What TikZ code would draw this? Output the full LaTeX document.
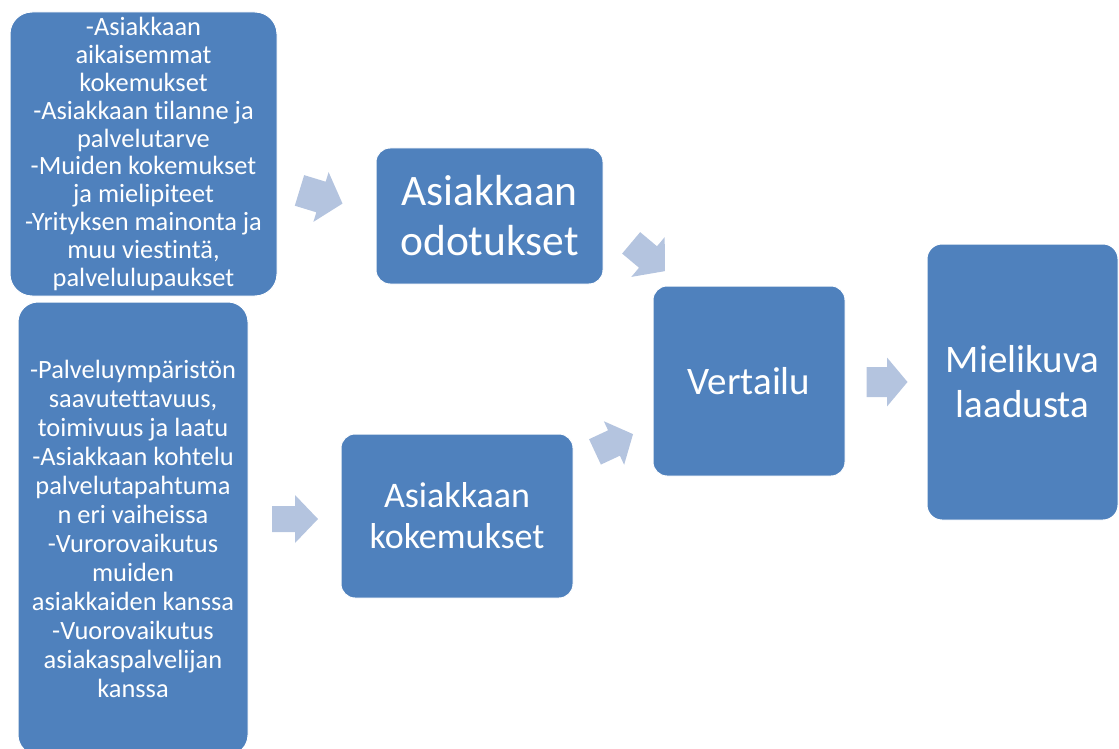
\documentclass[tikz,border=0pt]{standalone}
\usepackage{fontspec}
\setmainfont{Carlito}[Ligatures=NoCommon]
\definecolor{boxblue}{RGB}{79,129,189}
\definecolor{arrowblue}{RGB}{180,196,223}
\newcommand\blockarrow[7]{% name, x, y, rotation, length, head half-width, shaft half-width
  \coordinate (#1) at (#2,#3);
  \fill[arrowshape, shift={(#1)}, rotate=#4]
    (-#5/2,-#7) -- (0,-#7) -- (0,-#6) -- (#5/2,0) -- (0,#6) -- (0,#7) -- (-#5/2,#7) -- cycle;}
\begin{document}
\begin{tikzpicture}[x=1pt,y=-1pt,
  box/.style={rectangle, rounded corners=14pt, fill=boxblue, draw=white, line width=1pt,
              text=white, align=center, inner sep=0pt},
  arrowshape/.style={fill=arrowblue}]
\useasboundingbox (0,0) rectangle (1119,749);
\clip (0,0) rectangle (1119,749);

\node[box, font=\fontsize{26.4}{27.8}\selectfont, rounded corners=22pt, minimum width=267pt, minimum height=284pt] (prior) at (143.5,154)
  {-Asiakkaan\\aikaisemmat\\kokemukset\\-Asiakkaan tilanne ja\\palvelutarve\\-Muiden kokemukset\\ja mielipiteet\\-Yrityksen mainonta ja\\muu viestintä,\\palvelulupaukset};

\node[box, font=\fontsize{26.4}{29}\selectfont, rounded corners=20pt, minimum width=230pt, minimum height=453pt] (during) at (133,528.5)
  {-Palveluympäristön\\saavutettavuus,\\toimivuus ja laatu\\-Asiakkaan kohtelu\\palvelutapahtuma\\n eri vaiheissa\\-Vurorovaikutus\\muiden\\asiakkaiden kanssa\\-Vuorovaikutus\\asiakaspalvelijan\\kanssa};

\node[box, font=\fontsize{43.5}{50}\selectfont, minimum width=227pt, minimum height=136pt] (expect) at (489.5,216)
  {Asiakkaan\\odotukset};

\node[box, font=\fontsize{36}{41}\selectfont, minimum width=232pt, minimum height=164pt] (exper) at (457,516)
  {Asiakkaan\\kokemukset};

\node[box, font=\fontsize{39}{44}\selectfont, minimum width=192pt, minimum height=190pt] (cmp) at (749,381)
  {Vertailu};

\node[box, font=\fontsize{39}{45}\selectfont, rounded corners=15pt, minimum width=191pt, minimum height=276pt] (img) at (1022.5,382)
  {Mielikuva\\laadusta};

\blockarrow{a1}{321}{197}{-17}{45}{26}{16}
\blockarrow{a2}{648}{257}{-40}{44}{26}{14}
\blockarrow{a3}{295}{519}{0}{46}{24}{13}
\blockarrow{a4}{614}{443}{25}{42}{24}{14}
\blockarrow{a5}{887}{382}{0}{41}{24.5}{15}
\end{tikzpicture}
\end{document}
